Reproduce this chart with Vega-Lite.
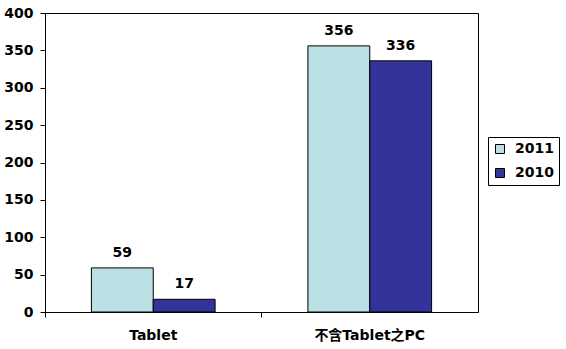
{
  "$schema": "https://vega.github.io/schema/vega-lite/v6.json",
  "width": 433,
  "height": 299,
  "autosize": {"type": "none"},
  "padding": {"left": 45, "top": 13, "right": 88, "bottom": 37},
  "background": "white",
  "config": {
    "font": "DejaVu Sans, Noto Sans CJK TC",
    "view": {"stroke": "black", "strokeWidth": 1},
    "axis": {"grid": false, "domainColor": "black", "tickColor": "black", "labelColor": "black", "labelFontWeight": "bold", "labelFontSize": 14, "title": null}
  },
  "data": {
    "values": [
      {"category": "Tablet", "year": "2011", "value": 59},
      {"category": "Tablet", "year": "2010", "value": 17},
      {"category": "不含Tablet之PC", "year": "2011", "value": 356},
      {"category": "不含Tablet之PC", "year": "2010", "value": 336}
    ]
  },
  "encoding": {
    "x": {
      "field": "category", "type": "nominal", "sort": ["Tablet", "不含Tablet之PC"],
      "scale": {"paddingInner": 0, "paddingOuter": 0},
      "axis": {"labelAngle": 0, "bandPosition": 0, "tickSize": 5, "labelPadding": 11, "domainWidth": 1}
    },
    "xOffset": {
      "field": "year", "type": "nominal", "sort": ["2011", "2010"],
      "scale": {"paddingInner": 0, "paddingOuter": 0.75}
    },
    "y": {
      "field": "value", "type": "quantitative",
      "scale": {"domain": [0, 400], "nice": false},
      "axis": {"values": [0, 50, 100, 150, 200, 250, 300, 350, 400], "tickSize": 5, "labelPadding": 7}
    }
  },
  "layer": [
    {
      "mark": {"type": "bar", "stroke": "black", "strokeWidth": 1},
      "encoding": {
        "color": {
          "field": "year", "type": "nominal", "sort": ["2011", "2010"],
          "scale": {"domain": ["2011", "2010"], "range": ["#BBE0E3", "#333399"]},
          "legend": {
            "title": null, "orient": "none", "legendX": 443, "legendY": 124,
            "strokeColor": "black", "padding": 5, "symbolType": "square", "symbolSize": 81,
            "symbolStrokeColor": "black", "symbolStrokeWidth": 1, "labelFontSize": 14, "labelFontWeight": "bold",
            "labelColor": "black", "rowPadding": 10, "symbolOffset": 0, "labelOffset": 8
          }
        }
      }
    },
    {
      "mark": {"type": "text", "baseline": "alphabetic", "dy": -11, "fontSize": 14, "fontWeight": "bold", "color": "black"},
      "encoding": {"text": {"field": "value", "type": "quantitative"}}
    }
  ]
}
